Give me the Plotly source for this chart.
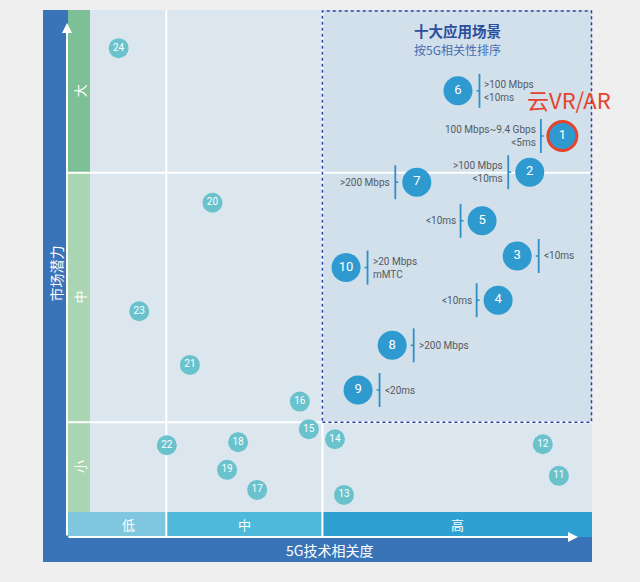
import plotly.graph_objects as go

# ---------------- data ----------------
big_ids = [1, 2, 3, 4, 5, 6, 7, 8, 9, 10]
big_x = [94.1, 87.6, 85.1, 81.3, 78.1, 73.3, 65.1, 60.2, 53.4, 51.0]
big_y = [74.9, 67.7, 51.0, 42.2, 58.0, 83.9, 65.7, 33.2, 24.3, 48.7]
big_req = [
    "100 Mbps~9.4 Gbps<br>&lt;5ms",
    "&gt;100 Mbps<br>&lt;10ms",
    "&lt;10ms",
    "&lt;10ms",
    "&lt;10ms",
    "&gt;100 Mbps<br>&lt;10ms",
    "&gt;200 Mbps",
    "&gt;200 Mbps",
    "&lt;20ms",
    "&gt;20 Mbps<br>mMTC",
]
big_side = ["left", "left", "right", "left", "left", "right", "left", "right", "right", "right"]

small_ids = [11, 12, 13, 14, 15, 16, 17, 18, 19, 20, 21, 22, 23, 24]
small_x = [93.4, 90.2, 50.6, 48.8, 43.6, 41.8, 33.3, 29.5, 27.3, 24.4, 19.9, 15.3, 9.8, 5.7]
small_y = [7.2, 13.5, 3.4, 14.5, 16.5, 22.0, 4.4, 13.9, 8.4, 61.6, 29.3, 13.3, 40.0, 92.4]

highlight_id = 1
highlight_name = "云VR/AR"

x_levels = ["低", "中", "高"]
x_bounds = [0, 15.2, 46.3, 100]
y_levels = ["小", "中", "大"]
y_bounds = [0, 17.9, 67.6, 100]

title_main = "十大应用场景"
title_sub = "按5G相关性排序"
x_title = "5G技术相关度"
y_title = "市场潜力"

# ---------------- geometry / style ----------------
W, H = 640, 582
L, R, T, B = 90, 48, 10, 70
PW, PH = W - L - R, H - T - B
FONT = "Roboto, Noto Sans CJK SC, sans-serif"
CJK = "Noto Sans CJK SC, sans-serif"

BLUE_FRAME = "#3a74b8"
PLOT_BG = "#dce6ee"
BOX_BG = "#d1e0eb"
BIG_COL = "#2f9ad0"
SMALL_COL = "#69c2cc"
GREEN = ["#a9d5b3", "#a9d5b3", "#7dbf96"]
XBAND = ["#7fc7df", "#4eb9da", "#2ea0d2"]
RED = "#e5432b"


def pxw(p):  # pixel width -> paper x units
    return p / PW


def pxh(p):  # pixel height -> paper y units
    return p / PH


def dx(p):  # pixel -> data x units
    return p * 100 / PW


def dy(p):
    return p * 100 / PH


shapes = []
# plot background
shapes.append(dict(type="rect", xref="paper", yref="paper", x0=0, x1=1, y0=0, y1=1,
                   fillcolor=PLOT_BG, line_width=0, layer="below"))
# blue frame strips
shapes.append(dict(type="rect", xref="paper", yref="paper", x0=pxw(-47), x1=pxw(-22), y0=pxh(-50), y1=1,
                   fillcolor=BLUE_FRAME, line_width=0, layer="below"))
shapes.append(dict(type="rect", xref="paper", yref="paper", x0=pxw(-47), x1=1, y0=pxh(-50), y1=pxh(-25),
                   fillcolor=BLUE_FRAME, line_width=0, layer="below"))
# green band (market potential levels)
for i in range(3):
    shapes.append(dict(type="rect", xref="paper", yref="paper", x0=pxw(-22), x1=0,
                       y0=y_bounds[i] / 100, y1=y_bounds[i + 1] / 100,
                       fillcolor=GREEN[i], line_width=0, layer="below"))
# bottom band (5G relevance levels)
for i in range(3):
    x0 = x_bounds[i] / 100 if i > 0 else pxw(-22)
    shapes.append(dict(type="rect", xref="paper", yref="paper", x0=x0, x1=x_bounds[i + 1] / 100,
                       y0=pxh(-25), y1=0, fillcolor=XBAND[i], line_width=0, layer="below"))
# top-10 box fill
shapes.append(dict(type="rect", xref="paper", yref="paper", x0=x_bounds[2] / 100, x1=1,
                   y0=y_bounds[1] / 100, y1=1, fillcolor=BOX_BG, line_width=0, layer="below"))
# white grid lines
for xb in x_bounds[1:3]:
    shapes.append(dict(type="line", xref="paper", yref="paper", x0=xb / 100, x1=xb / 100,
                       y0=pxh(-25), y1=1, line=dict(color="white", width=2), layer="below"))
for yb in y_bounds[1:3]:
    shapes.append(dict(type="line", xref="paper", yref="paper", x0=pxw(-23), x1=1,
                       y0=yb / 100, y1=yb / 100, line=dict(color="white", width=2), layer="below"))
# dotted border of top-10 box
shapes.append(dict(type="rect", xref="paper", yref="paper", x0=x_bounds[2] / 100, x1=1 - pxw(0.5),
                   y0=y_bounds[1] / 100, y1=1 - pxh(1), fillcolor="rgba(0,0,0,0)",
                   line=dict(color="#2b3fa8", width=1.5, dash="dot"), layer="below"))

annotations = []
# requirement bars + texts
OFF, HALF, TICK = 21.5, 17, 3
for x, y, txt, side in zip(big_x, big_y, big_req, big_side):
    s = -1 if side == "left" else 1
    bx = x + s * dx(OFF)
    shapes.append(dict(type="line", xref="x", yref="y", x0=bx, x1=bx, y0=y - dy(HALF), y1=y + dy(HALF),
                       line=dict(color="#2f8fc8", width=1.8)))
    shapes.append(dict(type="line", xref="x", yref="y", x0=bx, x1=bx - s * dx(TICK), y0=y, y1=y,
                       line=dict(color="#2f8fc8", width=1.5)))
    annotations.append(dict(xref="x", yref="y", x=bx, y=y, text=txt, showarrow=False,
                            xanchor="right" if side == "left" else "left",
                            align="right" if side == "left" else "left",
                            xshift=s * 3, yanchor="middle",
                            font=dict(family=FONT, size=10, color="#555b62")))

# axis arrows
annotations.append(dict(xref="paper", yref="paper", x=pxw(-23), y=1 - pxh(13), text="",
                        showarrow=True, ax=0, ay=514, arrowhead=2, arrowsize=1, arrowwidth=2,
                        arrowcolor="white"))
annotations.append(dict(xref="paper", yref="paper", x=1 - pxw(14), y=pxh(-25), text="",
                        showarrow=True, ax=-511, ay=0, arrowhead=2, arrowsize=1, arrowwidth=2,
                        arrowcolor="white"))


def label(**kw):
    d = dict(showarrow=False, xanchor="center", yanchor="middle")
    d.update(kw)
    annotations.append(d)


# band labels
for i, lab in enumerate(y_levels):
    label(xref="paper", yref="paper", x=pxw(-11), y=(y_bounds[i] + y_bounds[i + 1]) / 200,
          text=lab, textangle=-90, font=dict(family=CJK, size=13, color="white"))
for i, lab in enumerate(x_levels):
    label(xref="paper", yref="paper", x=(x_bounds[i] + x_bounds[i + 1]) / 200, y=pxh(-12.5),
          text=lab, font=dict(family=CJK, size=13, color="white"))
# axis titles
label(xref="paper", yref="paper", x=pxw(-35), y=pxh(238.5), text=y_title, textangle=-90,
      font=dict(family=CJK, size=14, color="white"))
label(xref="paper", yref="paper", x=pxw(239.5), y=pxh(-37.5), text=x_title,
      font=dict(family=CJK, size=14, color="white"))
# box titles
box_cx = (x_bounds[2] + x_bounds[3]) / 200
label(xref="paper", yref="paper", x=box_cx, y=1 - pxh(20.5), text="<b>" + title_main + "</b>",
      font=dict(family=CJK, size=14.5, color="#2b4f9c"))
label(xref="paper", yref="paper", x=box_cx, y=1 - pxh(39), text=title_sub,
      font=dict(family=CJK, size=12, color="#4a6db2"))
# highlight label
hi = big_ids.index(highlight_id)
label(xref="x", yref="y", x=big_x[hi], y=big_y[hi], text=highlight_name, xshift=7, yshift=37,
      font=dict(family=CJK, size=22, color=RED))

fig = go.Figure()
fig.add_trace(go.Scatter(
    x=small_x, y=small_y, mode="markers+text", text=[str(i) for i in small_ids],
    textposition="middle center", textfont=dict(family=FONT, size=10, color="white"),
    marker=dict(size=20, color=SMALL_COL, opacity=1, line=dict(width=0)),
    hoverinfo="skip", showlegend=False))
fig.add_trace(go.Scatter(
    x=big_x, y=big_y, mode="markers+text", text=[str(i) for i in big_ids],
    textposition="middle center", textfont=dict(family=FONT, size=13, color="white"),
    marker=dict(size=29, color=BIG_COL, opacity=1,
                line=dict(width=[3 if i == highlight_id else 0 for i in big_ids],
                          color=[RED if i == highlight_id else BIG_COL for i in big_ids])),
    hoverinfo="skip", showlegend=False))

fig.update_layout(
    width=W, height=H, autosize=False,
    margin=dict(l=L, r=R, t=T, b=B),
    paper_bgcolor="#efefef", plot_bgcolor="rgba(0,0,0,0)",
    xaxis=dict(range=[0, 100], visible=False, fixedrange=True),
    yaxis=dict(range=[0, 100], visible=False, fixedrange=True),
    shapes=shapes, annotations=annotations,
)
fig.write_html("out.html", config={"displayModeBar": False},
               post_script="document.body.style.margin='0';document.body.style.background='#efefef';")
